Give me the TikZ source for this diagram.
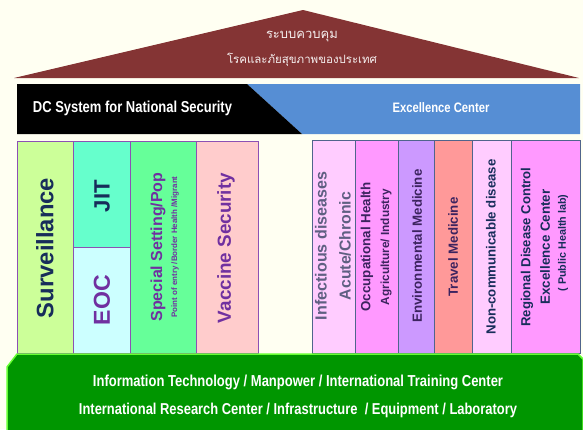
\documentclass[tikz,border=0pt]{standalone}
\usepackage{fontspec}
\usepackage{graphicx}
\setmainfont{Liberation Sans}
\newfontfamily\narrowfont[FakeStretch=0.82]{Liberation Sans}
\newfontfamily\thaifont[Script=Thai]{Loma}
\newcommand{\fw}[2]{\resizebox{#1pt}{!}{#2}}
\definecolor{bgc}{RGB}{255,255,242}
\definecolor{roofc}{RGB}{132,52,52}
\definecolor{bluec}{RGB}{86,142,212}
\definecolor{greenc}{RGB}{0,150,0}
\definecolor{greenb}{RGB}{102,255,51}
\definecolor{purpb}{RGB}{140,80,180}
\definecolor{slateb}{RGB}{80,100,140}
\definecolor{navyt}{RGB}{23,45,90}
\definecolor{purpt}{RGB}{112,48,160}
\definecolor{grayt}{RGB}{95,95,130}
\definecolor{dpurpt}{RGB}{60,35,95}
\definecolor{cSurv}{RGB}{204,255,153}
\definecolor{cJIT}{RGB}{102,255,204}
\definecolor{cEOC}{RGB}{204,255,255}
\definecolor{cSpec}{RGB}{102,255,153}
\definecolor{cVacc}{RGB}{255,204,204}
\definecolor{cInf}{RGB}{255,204,255}
\definecolor{cOcc}{RGB}{255,153,255}
\definecolor{cEnv}{RGB}{204,153,255}
\definecolor{cTrav}{RGB}{255,153,153}
\definecolor{cNon}{RGB}{255,204,255}
\definecolor{cReg}{RGB}{255,153,255}
\tikzset{
  colL/.style={draw=purpb, line width=1.2pt, inner sep=0pt, anchor=north west},
  colR/.style={draw=slateb, line width=1.2pt, inner sep=0pt, anchor=north west},
  vtext/.style={rotate=90, inner sep=0pt, font=\bfseries},
}
\begin{document}
\begin{tikzpicture}[x=1pt,y=1pt]
\useasboundingbox (0,0) rectangle (583,-429);
\fill[bgc] (0,0) rectangle (583,-429);
% roof
\fill[roofc] (14,-78) -- (303,-10) -- (579,-78) -- cycle;
\node[text=white!92!roofc, inner sep=0pt] (th1) at (302,-37) {\thaifont\fontsize{13}{15}\selectfont ระบบควบคุม};
\node[text=white!92!roofc, inner sep=0pt] (th2) at (302,-60) {\thaifont\fw{150}{โรคและภัยสุขภาพของประเทศ}};
% band
\fill[bluec] (247,-84) -- (580,-84) -- (580,-134) -- (302,-134) -- cycle;
\fill[black] (17,-84) -- (247,-84) -- (302,-134) -- (17,-134) -- cycle;
\node[text=white, inner sep=0pt] (dc) at (132.5,-108) {\narrowfont\bfseries\fw{199}{DC System for National Security}};
\node[text=white, inner sep=0pt] (ex) at (441,-108) {\narrowfont\bfseries\fw{97}{Excellence Center}};
% left columns
\node[colL, fill=cSurv, minimum width=56, minimum height=212] (surv) at (17,-141) {};
\node[colL, fill=cJIT, minimum width=57, minimum height=106] (jit) at (73,-141) {};
\node[colL, fill=cEOC, minimum width=57, minimum height=106] (eoc) at (73,-247) {};
\node[colL, fill=cSpec, minimum width=66, minimum height=212] (spec) at (130,-141) {};
\node[colL, fill=cVacc, minimum width=62, minimum height=212] (vacc) at (196,-141) {};
\node[vtext, text=navyt] (tsurv) at (45,-248) {\fw{140}{Surveillance}};
\node[vtext, text=navyt] (tjit) at (102,-196) {\fw{32}{JIT}};
\node[vtext, text=purpt] (teoc) at (102,-300) {\fw{50}{EOC}};
\node[vtext, text=purpt] (tspec) at (158,-247) {\fw{149}{Special Setting/Pop}};
\node[vtext, text=purpt] (tpoe) at (175,-247) {\fw{141}{Point of entry /Border Health /Migrant}};
\node[vtext, text=purpt] (tvacc) at (226,-248) {\fw{150}{Vaccine Security}};
% right columns
\node[colR, fill=cInf, minimum width=43, minimum height=213] (inf) at (312,-140) {};
\node[colR, fill=cOcc, minimum width=43, minimum height=213] (occ) at (355,-140) {};
\node[colR, fill=cEnv, minimum width=36, minimum height=213] (env) at (398,-140) {};
\node[colR, fill=cTrav, minimum width=38, minimum height=213] (trav) at (434,-140) {};
\node[colR, fill=cNon, minimum width=39, minimum height=213] (non) at (472,-140) {};
\node[colR, fill=cReg, minimum width=69, minimum height=213] (reg) at (511,-140) {};
\node[vtext, text=grayt] (tinf1) at (321,-246) {\fw{148}{Infectious diseases}};
\node[vtext, text=grayt] (tinf2) at (345,-246) {\fw{108}{Acute/Chronic}};
\node[vtext, text=dpurpt] (tocc1) at (367,-247) {\fw{129}{Occupational Health}};
\node[vtext, text=dpurpt] (tocc2) at (386,-247) {\fw{116}{Agriculture/ Industry}};
\node[vtext, text=dpurpt] (tenv) at (417,-246) {\fw{153}{Environmental Medicine}};
\node[vtext, text=dpurpt] (ttrav) at (453,-247) {\fw{99}{Travel Medicine}};
\node[vtext, text=navyt] (tnon) at (491,-247) {\fw{175}{Non-communicable disease}};
\node[vtext, text=navyt] (treg1) at (527,-247) {\fw{159}{Regional Disease Control}};
\node[vtext, text=navyt] (treg2) at (545,-247) {\fw{115}{Excellence Center}};
\node[vtext, text=navyt] (treg3) at (563,-243) {\fw{97}{( Public Health lab)}};
% base
\draw[greenb, fill=greenc, line width=1.5pt] (7,-367) -- (17,-354) -- (578,-354) -- (583,-359) -- (583,-432) -- (7,-432) -- cycle;
\node[text=white, inner sep=0pt] (b1) at (298,-382) {\narrowfont\bfseries\fw{410}{Information Technology / Manpower / International Training Center}};
\node[text=white, inner sep=0pt] (b2) at (298,-410) {\narrowfont\bfseries\fw{438}{International Research Center / Infrastructure \ / Equipment / Laboratory}};
\end{tikzpicture}
\end{document}
